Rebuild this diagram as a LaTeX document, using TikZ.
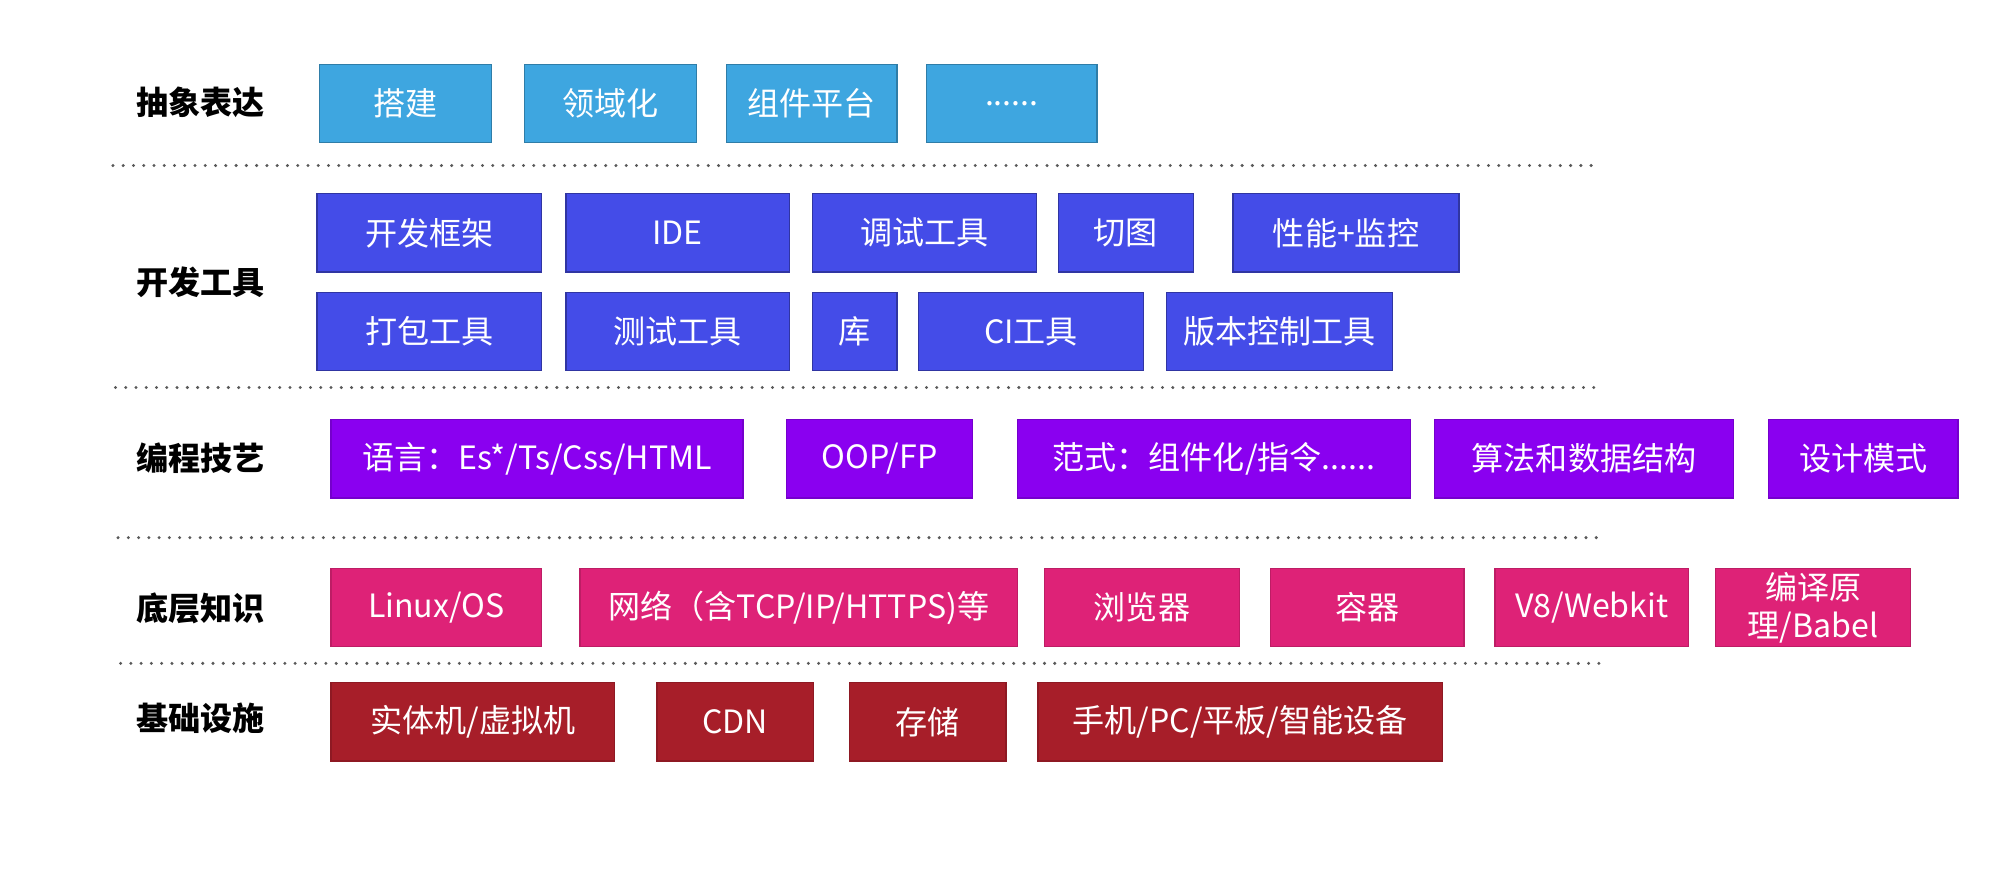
\documentclass[tikz,border=0pt]{standalone}
\usepackage{fontspec}
\setmainfont{Noto Sans CJK SC}
\definecolor{cA}{RGB}{62,166,224}
\definecolor{cB}{RGB}{68,76,232}
\definecolor{cC}{RGB}{138,0,240}
\definecolor{cD}{RGB}{222,34,119}
\definecolor{cE}{RGB}{167,30,41}
\tikzset{
  tilebase/.style={rectangle, inner sep=0pt, text=white, font=\fontsize{12.5}{15}\selectfont, line width=0.5pt, align=center},
  tA/.style={fill=cA, draw=cA!75!black},
  tB/.style={fill=cB, draw=cB!70!black},
  tC/.style={fill=cC, draw=cC!85!black},
  tD/.style={fill=cD, draw=cD!85!black},
  tE/.style={fill=cE, draw=cE!85!black},
  rowlabel/.style={font=\fontsize{12.5}{15}\selectfont\bfseries, text=black, inner sep=0pt},
  sep/.style={draw=black!65, line width=1.3pt, line cap=round, dash pattern=on 0pt off 4pt}
}
\newcommand\tile[7]{\node[tilebase,#1,minimum width={(#4-#3)*0.5pt}, minimum height={(#6-#5)*0.5pt}] (#2) at ({(#3+#4)/2},{(#5+#6)/2}) {#7};}
\begin{document}
\begin{tikzpicture}[x=0.5pt,y=-0.5pt]
\useasboundingbox (0,0) rectangle (1568,683);
% labels
\node[rowlabel] (L1) at (156,80) {抽象表达};
\node[rowlabel] (L2) at (156,220) {开发工具};
\node[rowlabel] (L3) at (156,357) {编程技艺};
\node[rowlabel] (L4) at (156,474) {底层知识};
\node[rowlabel] (L5) at (156,560) {基础设施};
% row 1
\tile{tA}{a1}{249}{383}{50}{111}{搭建}
\tile{tA}{a2}{409}{543}{50}{111}{领域化}
\tile{tA}{a3}{566}{699}{50}{111}{组件平台}
\tile{tA}{a4}{722}{855}{50}{111}{......}
% row 2
\tile{tB}{b1}{247}{422}{151}{212}{开发框架}
\tile{tB}{b2}{441}{615}{151}{212}{IDE}
\tile{tB}{b3}{633}{808}{151}{212}{调试工具}
\tile{tB}{b4}{825}{930}{151}{212}{切图}
\tile{tB}{b5}{961}{1137}{151}{212}{性能+监控}
\tile{tB}{b6}{247}{422}{228}{289}{打包工具}
\tile{tB}{b7}{441}{615}{228}{289}{测试工具}
\tile{tB}{b8}{633}{699}{228}{289}{库}
\tile{tB}{b9}{716}{891}{228}{289}{CI工具}
\tile{tB}{b10}{909}{1085}{228}{289}{版本控制工具}
% row 3
\tile{tC}{c1}{258}{579}{327}{388}{语言：Es*/Ts/Css/HTML}
\tile{tC}{c2}{613}{758}{327}{388}{OOP/FP}
\tile{tC}{c3}{793}{1099}{327}{388}{范式：组件化/指令......}
\tile{tC}{c4}{1118}{1351}{327}{388}{算法和数据结构}
\tile{tC}{c5}{1378}{1526}{327}{388}{设计模式}
% row 4
\tile{tD}{d1}{258}{422}{443}{504}{Linux/OS}
\tile{tD}{d2}{452}{793}{443}{504}{网络（含TCP/IP/HTTPS)等}
\tile{tD}{d3}{814}{966}{443}{504}{浏览器}
\tile{tD}{d4}{990}{1141}{443}{504}{容器}
\tile{tD}{d5}{1165}{1316}{443}{504}{V8/Webkit}
\tile{tD}{d6}{1337}{1489}{443}{504}{编译原\\理/Babel}
% row 5
\tile{tE}{e1}{258}{479}{532}{593}{实体机/虚拟机}
\tile{tE}{e2}{512}{634}{532}{593}{CDN}
\tile{tE}{e3}{662}{784}{532}{593}{存储}
\tile{tE}{e4}{809}{1124}{532}{593}{手机/PC/平板/智能设备}
% separators
\coordinate (s1a) at (88,129); \coordinate (s1b) at (1243,129);
\coordinate (s2a) at (90,302); \coordinate (s2b) at (1245,302);
\coordinate (s3a) at (92,419); \coordinate (s3b) at (1248,419);
\coordinate (s4a) at (94,517); \coordinate (s4b) at (1250,517);
\draw[sep] (s1a) -- (s1b);
\draw[sep] (s2a) -- (s2b);
\draw[sep] (s3a) -- (s3b);
\draw[sep] (s4a) -- (s4b);
\end{tikzpicture}
\end{document}
